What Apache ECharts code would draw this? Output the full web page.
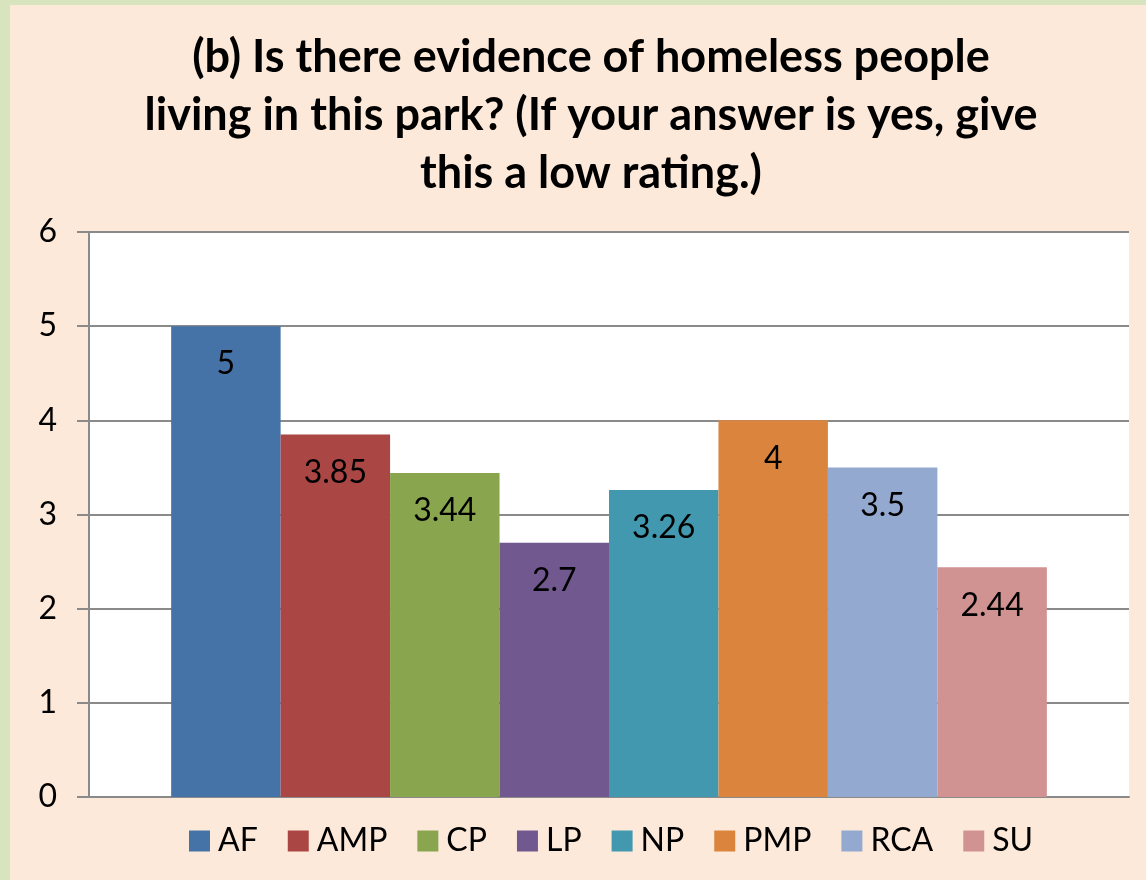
<!DOCTYPE html>
<html>
<head>
<meta charset="utf-8">
<script src="https://cdn.jsdelivr.net/npm/echarts@6/dist/echarts.min.js"></script>
<style>html,body{margin:0;padding:0;}#c{width:1146px;height:880px;}</style>
</head>
<body>
<div id="c"></div>
<script>
const titleLines = ['(b) Is there evidence of homeless people', 'living in this park? (If your answer is yes, give', 'this a low rating.)'];
const parks = ['AF', 'AMP', 'CP', 'LP', 'NP', 'PMP', 'RCA', 'SU'];
const ratings = [5, 3.85, 3.44, 2.7, 3.26, 4, 3.5, 2.44];
const colors = ['#4572A7', '#AA4643', '#89A54E', '#71588F', '#4198AF', '#DB843D', '#93A9CF', '#D19392'];
const yTicks = [0, 1, 2, 3, 4, 5, 6];

const font = 'Lato, "Open Sans", sans-serif';
const chart = echarts.init(document.getElementById('c'));
const series = parks.map((p, i) => ({
  name: p,
  type: 'bar',
  data: [ratings[i]],
  itemStyle: { color: colors[i] },
  barGap: '0%',
  barCategoryGap: '15.8%',
  label: {
    show: true, position: 'insideTop', distance: 22,
    color: '#000', fontSize: 32, fontFamily: font
  }
}));
chart.setOption({
  backgroundColor: '#D7E4BD',
  graphic: [{ type: 'rect', z: -10, shape: { x: 10, y: 5, width: 1136, height: 875 }, style: { fill: '#FDE9D9' } }],
  title: {
    text: titleLines.join('\n'),
    left: 586, top: 23, textAlign: 'center',
    textStyle: { fontSize: 45, fontWeight: 'bold', fontFamily: font, lineHeight: 58, color: '#000' }
  },
  legend: {
    data: parks, left: 184, top: 820, itemWidth: 21, itemHeight: 21, itemGap: 30,
    icon: 'rect',
    textStyle: { fontSize: 32, fontFamily: font, color: '#000', padding: [0, 0, 0, 3] }
  },
  grid: { left: 89, right: 17, top: 232, bottom: 83, show: true, backgroundColor: '#fff', borderWidth: 0 },
  xAxis: {
    type: 'category', data: [''],
    axisLine: { lineStyle: { color: '#8A8A8A', width: 2 } },
    axisTick: { show: false }, axisLabel: { show: false }
  },
  yAxis: {
    type: 'value', min: yTicks[0], max: yTicks[yTicks.length - 1], interval: 1,
    axisLine: { show: true, lineStyle: { color: '#8A8A8A', width: 2 } },
    axisTick: { show: true, length: 12, lineStyle: { color: '#8A8A8A', width: 2 } },
    splitLine: { lineStyle: { color: '#8A8A8A', width: 2 } },
    axisLabel: { fontSize: 32, fontFamily: font, color: '#000', margin: 32 }
  },
  series: series
});
</script>
</body>
</html>
